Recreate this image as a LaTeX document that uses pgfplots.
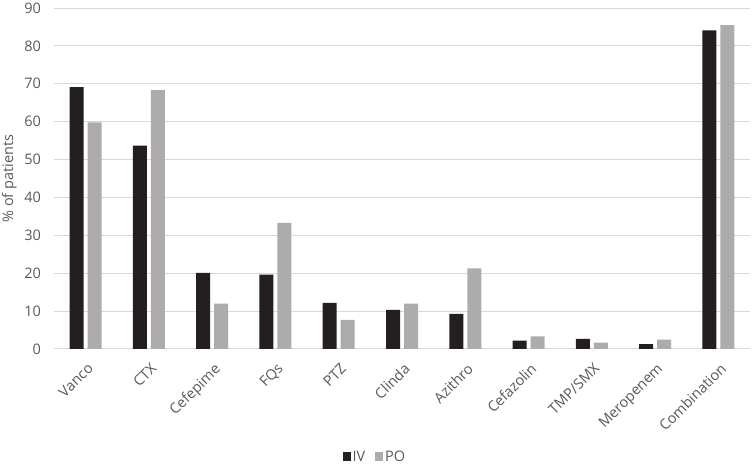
\documentclass[border=0pt]{standalone}
\usepackage{fontspec}
\setmainfont{Open Sans}
\usepackage{pgfplots}
\pgfplotsset{compat=1.18}
\definecolor{ivcol}{HTML}{231F20}
\definecolor{pocol}{HTML}{AEABAB}
\definecolor{gridcol}{HTML}{D9D9D9}
\definecolor{txtcol}{HTML}{595959}
\begin{document}
\fontsize{14.5}{17}\selectfont
\begin{tikzpicture}[font=\fontsize{14.5}{17}\selectfont]
\useasboundingbox (-54pt,-116pt) rectangle (699pt,349pt);
\begin{axis}[
  scale only axis,
  width=696pt, height=341pt,
  ybar=4pt, bar width=14pt,
  xmin=-0.5, xmax=10.5,
  ymin=0, ymax=90,
  ytick={0,10,...,90},
  xtick=data,
  xticklabels={Vanco,CTX,Cefepime,FQs,PTZ,Clinda,Azithro,Cefazolin,TMP/SMX,Meropenem,Combination},
  x tick label style={xshift=1pt, yshift=-13pt, rotate=45, anchor=north east, inner sep=0pt},
  axis x line*=bottom, axis y line*=left,
  x axis line style={draw=gridcol, line width=1pt, -},
  y axis line style={draw=none},
  major tick length=0pt,
  ymajorgrids, grid style={draw=gridcol, line width=1pt},
  yticklabel style={xshift=-8pt},
  tick label style={text=txtcol},
  /pgf/number format/assume math mode=true,
  ylabel={\% of patients}, ylabel style={text=txtcol, yshift=-2pt},
  legend style={at={(0.461,-0.317)}, anchor=center, draw=none, legend columns=2,
    /tikz/every even column/.append style={column sep=8pt}, text=txtcol},
  legend image code/.code={\fill[#1] (0pt,-4pt) rectangle (8pt,5pt);},
  legend cell align=left,
]
\addplot[fill=ivcol, draw=none] coordinates {
(0,69.1) (1,53.7) (2,20.1) (3,19.6) (4,12.2) (5,10.3) (6,9.3) (7,2.2) (8,2.7) (9,1.3) (10,84.1)
};
\addlegendentry{IV}
\addplot[fill=pocol, draw=none] coordinates {
(0,59.8) (1,68.3) (2,12.0) (3,33.3) (4,7.7) (5,12.0) (6,21.3) (7,3.3) (8,1.7) (9,2.5) (10,85.5)
};
\addlegendentry{PO}
\end{axis}
\end{tikzpicture}
\end{document}
